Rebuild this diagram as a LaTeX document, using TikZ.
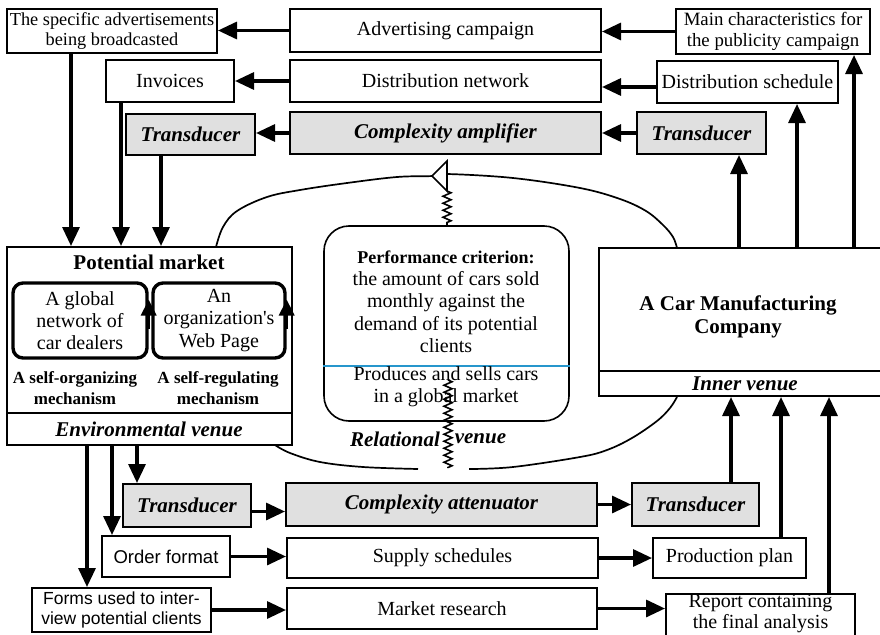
\documentclass[tikz,border=0pt]{standalone}
\usepackage{fontspec}
\setmainfont{Liberation Serif}
\newfontfamily\sansf{Liberation Sans}
\usetikzlibrary{arrows.meta,decorations.pathmorphing}
\definecolor{boxgray}{RGB}{224,224,224}
\definecolor{divblue}{RGB}{38,150,204}

\begin{document}
\begin{tikzpicture}[x=1pt,y=-1pt,
  txt/.style={inner sep=0pt, align=center, font=\fontsize{20}{22.3}\selectfont},
  box/.style={draw, line width=2pt, fill=white, inner sep=0pt, align=center,
    font=\fontsize{20}{20.5}\selectfont},
  graybox/.style={box, fill=boxgray, font=\fontsize{21}{22}\selectfont\bfseries\itshape},
  loopbox/.style={draw, line width=3.4pt, rounded corners=10pt, inner sep=0pt,
    align=center, font=\fontsize{20}{22.3}\selectfont},
  lbl/.style={inner sep=0pt, align=center, font=\fontsize{17}{20.5}\selectfont\bfseries},
  bi/.style={inner sep=0pt, font=\fontsize{21}{22}\selectfont\bfseries\itshape},
  arr/.style={line width=3.2pt, -{Triangle[length=19pt,width=17pt]}},
  looparr/.style={line width=3.4pt, -{Triangle[length=16pt,width=15pt]}},
  curve/.style={line width=1.7pt},
  zz/.style={line width=1.6pt, decorate,
    decoration={zigzag, segment length=7pt, amplitude=4pt}}
]
\clip (0,0) rectangle (880,634);
\fill[white] (0,0) rectangle (880,634);

% the relational loop between the market and the company
\draw[curve] plot[smooth, tension=0.6] coordinates {(216,247) (223,227) (237,211)
  (267,197) (300,190) (347,183) (397,177) (433,176) (447,174) (513,178) (580,188)
  (620,199) (646,211) (663,225) (673,237) (677,248)};
\draw[curve] plot[smooth, tension=0.6] coordinates {(275,445) (290,453) (320,462)
  (363,467) (418,469)};
\draw[curve] plot[smooth, tension=0.6] coordinates {(469,469) (513,467) (580,457)
  (607,450) (632,438) (657,421) (670,408) (677,397)};
\draw[line width=1.6pt, fill=white] (447,161) -- (432,176) -- (447,191) -- cycle;
\coordinate (tri) at (447,191);

% top rows
\node[box, minimum width=210, minimum height=44, font=\fontsize{18.3}{20}\selectfont]
  (ads) at (112,31) {The specific advertisements\\being broadcasted};
\node[box, minimum width=311, minimum height=43] (adcamp) at (445.5,30.5)
  {Advertising campaign};
\node[box, minimum width=194, minimum height=45, font=\fontsize{18.8}{21}\selectfont]
  (mainchar) at (773,31.5) {Main characteristics for\\the publicity campaign};
\node[box, minimum width=128, minimum height=42] (inv) at (170,81) {Invoices};
\node[box, minimum width=311, minimum height=42] (distnet) at (445.5,81)
  {Distribution network};
\node[box, minimum width=181, minimum height=42] (distsch) at (747.5,82)
  {Distribution schedule};
\node[graybox, minimum width=129, minimum height=41] (tl) at (190.5,134.5) {Transducer};
\node[graybox, minimum width=311, minimum height=42] (camp) at (445.5,133)
  {Complexity amplifier};
\node[graybox, minimum width=129, minimum height=42] (tr) at (701.5,133) {Transducer};

% potential market
\node[box, minimum width=285, minimum height=198] (pm) at (149.5,346) {};
\draw[line width=2pt] (pm.west |- 0,413) -- (pm.east |- 0,413);
\node[txt, font=\fontsize{21}{22}\selectfont\bfseries] (pmtitle) at (149,262)
  {Potential market};
\node[loopbox, minimum width=134, minimum height=75] (glob) at (80,320.5)
  {A global\\network of\\car dealers};
\node[loopbox, minimum width=132, minimum height=75] (web) at (219,320.5)
  {An\\organization\textquotesingle s\\Web Page};
\draw[looparr] ([yshift=-8pt]glob.east) -- ([yshift=21pt]glob.east);
\draw[looparr] ([yshift=-8pt]web.east) -- ([yshift=21pt]web.east);
\node[lbl] (selforg) at (75,388) {A self-organizing\\mechanism};
\node[lbl] (selfreg) at (218,388) {A self-regulating\\mechanism};
\node[bi] (envven) at (149,429) {Environmental venue};

% car manufacturing company
\node[box, minimum width=286, minimum height=148] (cmc) at (742,322) {};
\draw[line width=2pt] (cmc.west |- 0,371) -- (cmc.east |- 0,371);
\node[txt, font=\fontsize{21}{23}\selectfont\bfseries] (cmctitle) at (738,316.5)
  {A Car Manufacturing\\Company};
\node[bi] (innven) at (745,384) {Inner venue};

% relational venue
\node[draw, line width=1.6pt, rounded corners=25pt, minimum width=245,
  minimum height=195] (perf) at (446.5,323.5) {};
\draw[divblue, line width=1.6pt] (perf.west |- 0,366) -- (perf.east |- 0,366);
\node[txt] (crit) at (446,301.5)
  {{\fontsize{18}{22.3}\selectfont\bfseries Performance criterion:}\\the amount of cars sold\\
   monthly against the\\demand of its potential\\clients};
\node[txt] (prodsell) at (446,387) {Produces and sells cars\\in a global market};
\node[bi] (relA) at (395,439) {Relational};
\node[bi] (relB) at (480.5,439) {venue};
\draw[zz] (tri) -- (tri |- perf.north);
\coordinate (zzs) at (448,380);
\coordinate (zze) at (448,468);
\draw[zz] (zzs) -- (zze);

% bottom rows
\node[graybox, minimum width=128, minimum height=43] (tbl) at (187,505.5) {Transducer};
\node[graybox, minimum width=311, minimum height=43] (catt) at (441.5,504.5)
  {Complexity attenuator};
\node[graybox, minimum width=127, minimum height=43] (tbr) at (695.5,504.5) {Transducer};
\node[box, font=\sansf\fontsize{18.5}{20}\selectfont, minimum width=128,
  minimum height=41] (order) at (166,556.5) {Order format};
\node[box, minimum width=311, minimum height=40] (supply) at (442.5,558)
  {Supply schedules};
\node[box, minimum width=153, minimum height=40] (prod) at (729.5,558)
  {Production plan};
\node[box, font=\sansf\fontsize{17.5}{19.5}\selectfont, minimum width=179,
  minimum height=44] (forms) at (121.5,610) {Forms used to inter-\\view potential clients};
\node[box, minimum width=310, minimum height=41] (market) at (442,608.5)
  {Market research};
\node[box, minimum width=189, minimum height=52, anchor=north] (report) at (760.5,593) {};
\node[txt, font=\fontsize{20}{21}\selectfont] (reporttxt) at (760.5,613.5)
  {Report containing\\the final analysis};

% arrows, top part
\draw[arr] (adcamp.west) -- (adcamp.west -| ads.east);
\draw[arr] (mainchar.west) -- (mainchar.west -| adcamp.east);
\draw[arr] (distnet.west) -- (distnet.west -| inv.east);
\draw[arr] ([yshift=-5pt]distsch.west) -- ([yshift=-5pt]distsch.west -| distnet.east);
\draw[arr] (camp.west) -- (camp.west -| tl.east);
\draw[arr] (tr.west) -- (tr.west -| camp.east);
\draw[arr] (ads.south -| 71,0) -- (pm.north -| 71,0);
\draw[arr] (inv.south -| 121,0) -- (pm.north -| 121,0);
\draw[arr] (tl.south -| 161,0) -- (pm.north -| 161,0);
\draw[arr] (cmc.north -| 739,0) -- (tr.south -| 739,0);
\draw[arr] (cmc.north -| 797,0) -- (distsch.south -| 797,0);
\draw[arr] (cmc.north -| 854,0) -- (mainchar.south -| 854,0);

% arrows, bottom part
\draw[arr] (pm.south -| 87,0) -- (forms.north -| 87,0);
\draw[arr] (pm.south -| 112,0) -- (order.north -| 112,0);
\draw[arr] (pm.south -| 137,0) -- (tbl.north -| 137,0);
\draw[arr] (tbr.north -| 731,0) -- (cmc.south -| 731,0);
\draw[arr] (prod.north -| 781,0) -- (cmc.south -| 781,0);
\draw[arr] (report.north -| 829,0) -- (cmc.south -| 829,0);
\draw[arr] ([yshift=-6pt]tbl.east) -- ([yshift=-6pt]tbl.east -| catt.west);
\draw[arr] (catt.east) -- (catt.east -| tbr.west);
\draw[arr] (order.east) -- (order.east -| supply.west);
\draw[arr] (supply.east) -- (supply.east -| prod.west);
\draw[arr] (forms.east) -- (forms.east -| market.west);
\draw[arr] (market.east) -- (market.east -| report.west);
\end{tikzpicture}
\end{document}
